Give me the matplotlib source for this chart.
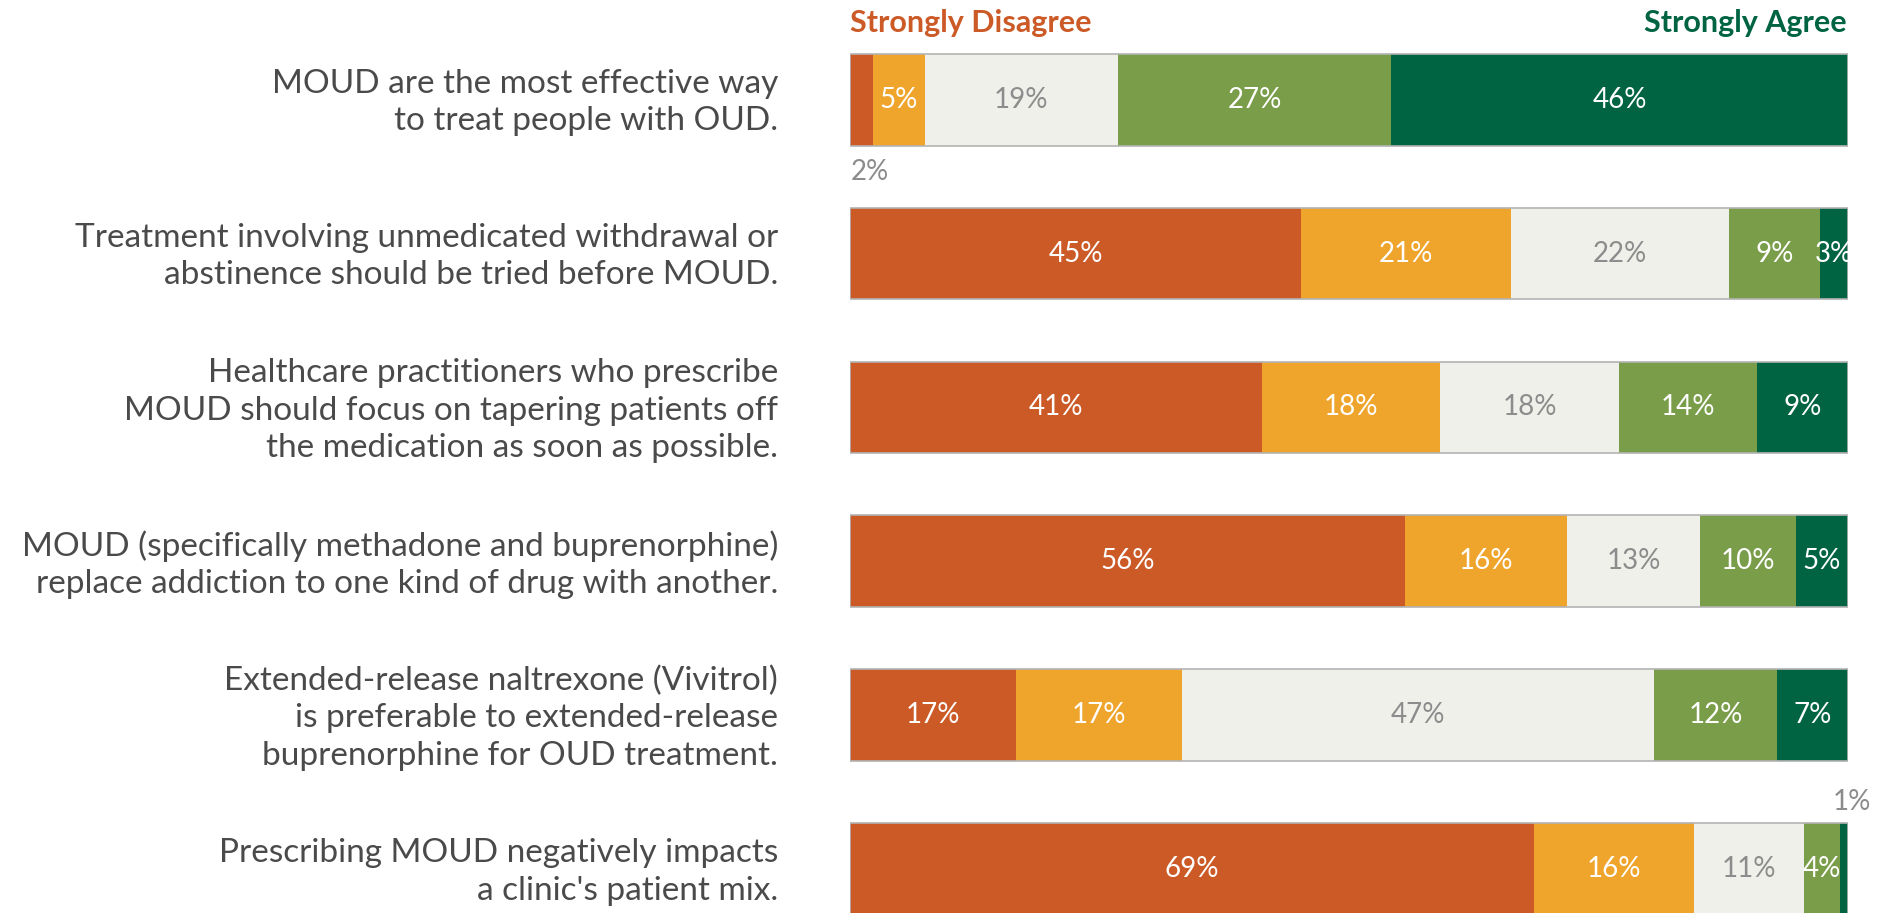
import matplotlib.pyplot as plt
import matplotlib.transforms as mtransforms
import numpy as np

statements = [
    "MOUD are the most effective way\nto treat people with OUD.",
    "Treatment involving unmedicated withdrawal or\nabstinence should be tried before MOUD.",
    "Healthcare practitioners who prescribe\nMOUD should focus on tapering patients off\nthe medication as soon as possible.",
    "MOUD (specifically methadone and buprenorphine)\nreplace addiction to one kind of drug with another.",
    "Extended-release naltrexone (Vivitrol)\nis preferable to extended-release\nbuprenorphine for OUD treatment.",
    "Prescribing MOUD negatively impacts\na clinic's patient mix.",
]
levels = ["Strongly Disagree", "Disagree", "Neutral", "Agree", "Strongly Agree"]
# shares in percent (labels are rounded)
strongly_disagree = [2.3, 45.2, 41.3, 55.6, 16.6, 68.6]
disagree = [5.2, 21.0, 17.9, 16.2, 16.7, 16.1]
neutral = [19.3, 21.9, 17.9, 13.4, 47.3, 11.0]
agree = [27.4, 9.1, 13.9, 9.6, 12.3, 3.6]
strongly_agree = [45.7, 2.8, 9.1, 5.2, 7.1, 0.8]

colors = ['#cc5a27', '#efa42b', '#eff0ea', '#7a9d4a', '#006341']
text_colors = ['white', 'white', '#8c8c8c', 'white', 'white']

vals = np.array([strongly_disagree, disagree, neutral, agree, strongly_agree]).T
widths = vals / vals.sum(axis=1, keepdims=True) * 100
starts = np.cumsum(widths, axis=1) - widths

fig = plt.figure(figsize=(18.77, 9.13), dpi=100)
ax = fig.add_axes([850 / 1877, -0.036, 998 / 1877, 1.011])
ax.set_xlim(0, 100)
ax.set_ylim(5.5, -0.5)
ax.axis('off')

font = 'Lato'
ys = np.arange(len(statements))
bar_h = 0.595

for j in range(len(levels)):
    ax.barh(ys, widths[:, j], left=starts[:, j], height=bar_h,
            color=colors[j], linewidth=0)

# thin grey outline around each whole bar
for i in ys:
    ax.add_patch(plt.Rectangle((0, i - bar_h / 2), 100, bar_h, fill=False,
                               edgecolor='#b3b3b3', linewidth=1.2, zorder=3))

# percentage labels
for i in ys:
    for j in range(len(levels)):
        v = round(vals[i, j])
        cx = starts[i, j] + widths[i, j] / 2
        if v <= 2 and j == 0:
            ax.text(0.1, i + bar_h / 2 + 0.17, f"{v}%", ha='left', va='center',
                    fontsize=20, color='#8c8c8c', family=font)
        elif v <= 1:
            ax.text(100.4, i - bar_h / 2 - 0.14, f"{v}%", ha='center', va='center',
                    fontsize=20, color='#8c8c8c', family=font, clip_on=False)
        else:
            ax.text(cx, i, f"{v}%", ha='center', va='center', fontsize=20,
                    color=text_colors[j], family=font, clip_on=False, zorder=4)

# statement labels on the left
trans = mtransforms.blended_transform_factory(fig.transFigure, ax.transData)
for i, s in enumerate(statements):
    ax.text(778 / 1877, i + 0.02, s, transform=trans, ha='right', va='center',
            multialignment='right', fontsize=24, color='#4a4a4a',
            family=font, linespacing=1.3)

fig.text(850 / 1877, 1 - 23 / 913, "Strongly Disagree", ha='left', va='center',
         fontsize=22, color=colors[0], family=font, fontweight='bold')
fig.text(1847 / 1877, 1 - 23 / 913, "Strongly Agree", ha='right', va='center',
         fontsize=22, color=colors[4], family=font, fontweight='bold')

fig.savefig('out.png', dpi=100)
